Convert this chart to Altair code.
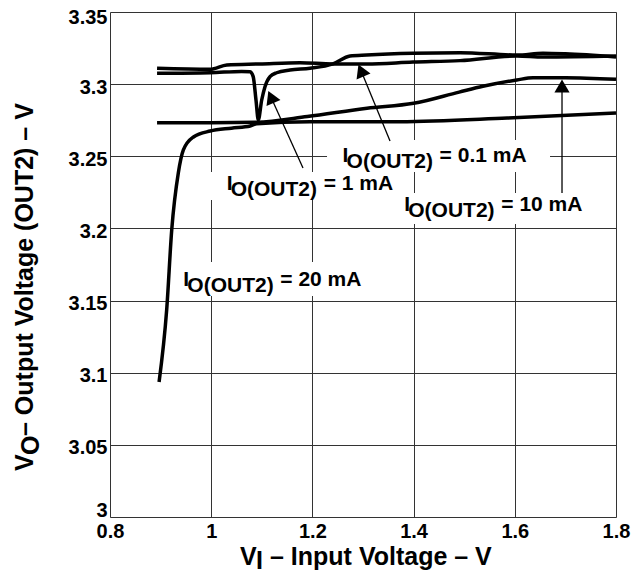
import altair as alt
import pandas as pd

# ---- curve data ----
x_01 = [0.893, 0.998, 1.031, 1.096, 1.1755, 1.24, 1.3073, 1.3988, 1.4917, 1.6043, 1.6557, 1.80]
y_01 = [3.311, 3.3103, 3.3133, 3.314, 3.3149, 3.314, 3.314, 3.3153, 3.3163, 3.3195, 3.3188, 3.3195]

x_1 = [0.893, 0.998, 1.06, 1.077, 1.083, 1.0885, 1.0931, 1.0998, 1.1063, 1.1162, 1.1294,
       1.1557, 1.1953, 1.2407, 1.2743, 1.3073, 1.3988, 1.4917, 1.6043, 1.6557, 1.70, 1.80]
y_1 = [3.3075, 3.3079, 3.3088, 3.3086, 3.3052, 3.289, 3.2752, 3.289, 3.2982, 3.3052, 3.3079,
       3.3098, 3.311, 3.314, 3.3195, 3.3202, 3.3214, 3.3218, 3.3202, 3.3214, 3.321, 3.3188]

x_10 = [0.893, 1.0, 1.09, 1.19, 1.308, 1.40, 1.49, 1.537, 1.604, 1.636, 1.70, 1.80]
y_10 = [3.2733, 3.2733, 3.2736, 3.2775, 3.2833, 3.2867, 3.2945, 3.2985, 3.3029, 3.3045, 3.3045, 3.3034]

x_20 = [0.897, 0.912, 0.922, 0.935, 0.945, 0.965, 0.998, 1.04, 1.077, 1.09, 1.195, 1.373, 1.585, 1.80]
y_20 = [3.0936, 3.1435, 3.199, 3.2384, 3.2544, 3.2634, 3.2675, 3.2695, 3.271, 3.2725, 3.274, 3.274, 3.2765, 3.280]

x_ticks = [0.8, 1.0, 1.2, 1.4, 1.6, 1.8]
y_ticks = [3.0, 3.05, 3.1, 3.15, 3.2, 3.25, 3.3, 3.35]

# ---- annotations (data coordinates) ----
lab_text = ["= 0.1 mA", "= 1 mA", "= 10 mA", "= 20 mA"]
lab_x = [1.2597, 1.0306, 1.3816, 0.9449]
lab_y = [3.2462, 3.2266, 3.2123, 3.1603]

box_x1 = [1.2289, 0.9917, 1.3692, 0.9383]
box_x2 = [1.6696, 1.3672, 1.7486, 1.3099]
box_y1 = [3.2613, 3.2391, 3.2246, 3.1767]
box_y2 = [3.2391, 3.2197, 3.2031, 3.1532]

arr_x1 = [1.3534, 1.1814, 1.6933]
arr_y1 = [3.2606, 3.2419, 3.2246]
arr_x2 = [1.296, 1.118, 1.6933]
arr_y2 = [3.3095, 3.2911, 3.2987]
arr_ang = [337, 337, 0]

rows = []
for name, xs, ys in [("0.1 mA", x_01, y_01), ("1 mA", x_1, y_1),
                     ("10 mA", x_10, y_10), ("20 mA", x_20, y_20)]:
    for i, (a, b) in enumerate(zip(xs, ys)):
        rows.append({"series": name, "order": i, "vi": a, "vo": b})
df = pd.DataFrame(rows)

labels = pd.DataFrame({"t": lab_text, "x": lab_x, "y": lab_y,
                       "i": ["I"] * 4, "sub": ["O(OUT2)"] * 4})
boxes = pd.DataFrame({"x1": box_x1, "x2": box_x2, "y1": box_y1, "y2": box_y2})
arrows = pd.DataFrame({"x1": arr_x1, "y1": arr_y1, "x2": arr_x2, "y2": arr_y2, "ang": arr_ang})

FONT = "Liberation Sans"
xs = alt.Scale(domain=[0.8, 1.8], nice=False, zero=False)
ys = alt.Scale(domain=[3.0, 3.35], nice=False, zero=False)

xaxis = alt.Axis(values=x_ticks, format="~g", title=None, ticks=False, domain=False,
                 labelFont=FONT, labelFontWeight="bold", labelFontSize=20, labelColor="black",
                 labelPadding=4, labelFlush=False,
                 gridColor="#333333", gridWidth=1, gridOpacity=1)
yaxis = alt.Axis(values=y_ticks, format="~g", title=None, ticks=False, domain=False,
                 labelFont=FONT, labelFontWeight="bold", labelFontSize=20, labelColor="black",
                 labelPadding=3, labelFlush=False,
                 labelOffset={"condition": [{"test": "datum.value < 3.01", "value": -7},
                                            {"test": "datum.value > 3.34", "value": 5}],
                              "value": 3},
                 gridColor="#333333", gridWidth=1, gridOpacity=1)

lines = alt.Chart(df).mark_line(color="black", strokeWidth=3.5, interpolate="monotone").encode(
    x=alt.X("vi:Q", scale=xs, axis=xaxis),
    y=alt.Y("vo:Q", scale=ys, axis=yaxis),
    detail="series:N",
    order="order:Q",
)

bg = alt.Chart(boxes).mark_rect(fill="white").encode(
    x=alt.X("x1:Q", scale=xs), x2="x2:Q",
    y=alt.Y("y1:Q", scale=ys), y2="y2:Q",
)

rules = alt.Chart(arrows).mark_rule(color="black", strokeWidth=1.3).encode(
    x=alt.X("x1:Q", scale=xs), x2="x2:Q",
    y=alt.Y("y1:Q", scale=ys), y2="y2:Q",
)

heads = alt.Chart(arrows).mark_point(shape="triangle-up", filled=True, color="black",
                                     size=230, opacity=1).encode(
    x=alt.X("x2:Q", scale=xs),
    y=alt.Y("y2:Q", scale=ys),
    angle=alt.Angle("ang:Q", scale=None),
)

tstyle = dict(font=FONT, fontWeight="bold", fontSize=21, color="black",
              align="left", baseline="alphabetic")
t_i = alt.Chart(labels).mark_text(**tstyle).encode(
    x=alt.X("x:Q", scale=xs), y=alt.Y("y:Q", scale=ys), text="i:N")
t_sub = alt.Chart(labels).mark_text(dx=4, dy=6, **tstyle).encode(
    x=alt.X("x:Q", scale=xs), y=alt.Y("y:Q", scale=ys), text="sub:N")
t_rest = alt.Chart(labels).mark_text(dx=97, **tstyle).encode(
    x=alt.X("x:Q", scale=xs), y=alt.Y("y:Q", scale=ys), text="t:N")

# ---- axis titles with subscripts ----
TS = 25
title_style = dict(font=FONT, fontWeight="bold", fontSize=TS, color="black",
                   align="left", baseline="alphabetic")
one = pd.DataFrame({"k": [0]})
xt_v = alt.Chart(one).mark_text(text="V", **title_style).encode(x=alt.value(130), y=alt.value(553))
xt_s = alt.Chart(one).mark_text(text="I", **title_style).encode(x=alt.value(146), y=alt.value(557))
xt_r = alt.Chart(one).mark_text(text="– Input Voltage – V", **title_style).encode(
    x=alt.value(160), y=alt.value(553))

yt_v = alt.Chart(one).mark_text(text="V", angle=270, **title_style).encode(
    x=alt.value(-77), y=alt.value(459))
yt_s = alt.Chart(one).mark_text(text="O", angle=270, **title_style).encode(
    x=alt.value(-71), y=alt.value(443))
yt_r = alt.Chart(one).mark_text(text="– Output Voltage (OUT2) – V", angle=270, **title_style).encode(
    x=alt.value(-77), y=alt.value(424))

chart = alt.layer(
    lines, bg, rules, heads, t_i, t_sub, t_rest, xt_v, xt_s, xt_r, yt_v, yt_s, yt_r
).properties(
    width=506, height=505,
    autosize=alt.AutoSizeParams(type="none"),
    padding={"left": 102, "top": 4, "right": 18, "bottom": 56},
).configure_view(stroke="black", strokeWidth=2.5).configure(background="white")

chart.save("out.html", embed_options={"renderer": "svg", "actions": False})
